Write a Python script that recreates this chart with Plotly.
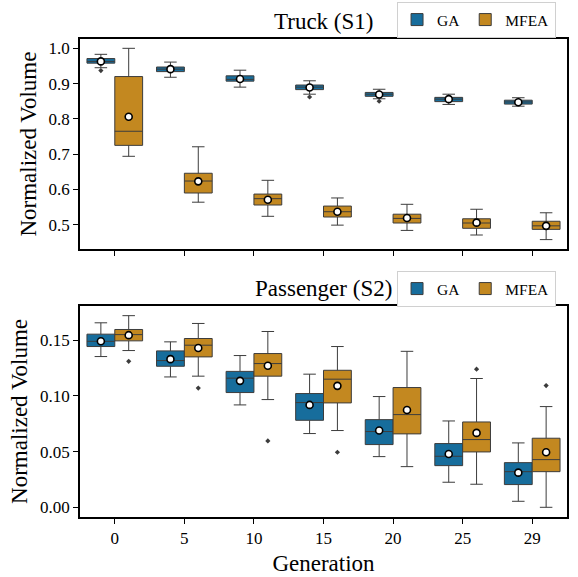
import plotly.graph_objects as go
from plotly.subplots import make_subplots

generations = ["0", "5", "10", "15", "20", "25", "29"]
series_names = ["GA", "MFEA"]

# ---- Truck (S1) ----
truck_ga_lower = [0.945, 0.918, 0.890, 0.870, 0.857, 0.841, 0.836]
truck_ga_q1 = [0.958, 0.934, 0.907, 0.883, 0.864, 0.849, 0.842]
truck_ga_median = [0.963, 0.941, 0.912, 0.890, 0.870, 0.856, 0.848]
truck_ga_q3 = [0.971, 0.947, 0.922, 0.896, 0.875, 0.861, 0.853]
truck_ga_upper = [0.983, 0.961, 0.938, 0.908, 0.884, 0.870, 0.860]
truck_ga_mean = [0.963, 0.941, 0.913, 0.889, 0.869, 0.856, 0.847]
truck_ga_out_gen = ["0", "15", "20"]
truck_ga_out_val = [0.937, 0.862, 0.850]

truck_mfea_lower = [0.694, 0.564, 0.524, 0.499, 0.484, 0.471, 0.458]
truck_mfea_q1 = [0.725, 0.590, 0.556, 0.522, 0.505, 0.490, 0.487]
truck_mfea_median = [0.765, 0.624, 0.574, 0.537, 0.518, 0.505, 0.497]
truck_mfea_q3 = [0.920, 0.646, 0.587, 0.553, 0.530, 0.517, 0.510]
truck_mfea_upper = [1.000, 0.721, 0.626, 0.576, 0.558, 0.544, 0.534]
truck_mfea_mean = [0.806, 0.623, 0.571, 0.537, 0.519, 0.506, 0.497]
truck_mfea_out_gen = []
truck_mfea_out_val = []

# ---- Passenger (S2) ----
pass_ga_lower = [0.1353, 0.1170, 0.0919, 0.0662, 0.0455, 0.0225, 0.0054]
pass_ga_q1 = [0.1443, 0.1266, 0.1030, 0.0781, 0.0563, 0.0374, 0.0204]
pass_ga_median = [0.1490, 0.1317, 0.1159, 0.0940, 0.0680, 0.0458, 0.0320]
pass_ga_q3 = [0.1554, 0.1404, 0.1220, 0.1021, 0.0787, 0.0572, 0.0401]
pass_ga_upper = [0.1656, 0.1485, 0.1362, 0.1195, 0.0994, 0.0775, 0.0578]
pass_ga_mean = [0.1490, 0.1330, 0.1135, 0.0919, 0.0689, 0.0479, 0.0311]
pass_ga_out_gen = []
pass_ga_out_val = []

pass_mfea_lower = [0.1407, 0.1177, 0.0967, 0.0689, 0.0365, 0.0207, 0.0000]
pass_mfea_q1 = [0.1494, 0.1350, 0.1177, 0.0937, 0.0659, 0.0497, 0.0320]
pass_mfea_median = [0.1550, 0.1455, 0.1290, 0.1150, 0.0832, 0.0608, 0.0428]
pass_mfea_q3 = [0.1596, 0.1515, 0.1380, 0.1230, 0.1075, 0.0766, 0.0620]
pass_mfea_upper = [0.1720, 0.1650, 0.1578, 0.1443, 0.1400, 0.1156, 0.0904]
pass_mfea_mean = [0.1545, 0.1430, 0.1270, 0.1090, 0.0874, 0.0668, 0.0494]
pass_mfea_out_gen = ["0", "5", "10", "15", "25", "29"]
pass_mfea_out_val = [0.131, 0.107, 0.0596, 0.0494, 0.124, 0.1093]

colors = {"GA": "#176D9C", "MFEA": "#C38820"}
line_col = "#3c3c3c"
FONT = "Liberation Serif, Times New Roman, serif"

panels = [
    dict(row=1, legend="legend", data={
        "GA": (truck_ga_lower, truck_ga_q1, truck_ga_median, truck_ga_q3, truck_ga_upper,
               truck_ga_mean, truck_ga_out_gen, truck_ga_out_val),
        "MFEA": (truck_mfea_lower, truck_mfea_q1, truck_mfea_median, truck_mfea_q3, truck_mfea_upper,
                 truck_mfea_mean, truck_mfea_out_gen, truck_mfea_out_val),
    }),
    dict(row=2, legend="legend2", data={
        "GA": (pass_ga_lower, pass_ga_q1, pass_ga_median, pass_ga_q3, pass_ga_upper,
               pass_ga_mean, pass_ga_out_gen, pass_ga_out_val),
        "MFEA": (pass_mfea_lower, pass_mfea_q1, pass_mfea_median, pass_mfea_q3, pass_mfea_upper,
                 pass_mfea_mean, pass_mfea_out_gen, pass_mfea_out_val),
    }),
]

fig = make_subplots(rows=2, cols=1)

for p in panels:
    r = p["row"]
    for name in series_names:
        lo, q1, med, q3, up, mean, og, ov = p["data"][name]
        fig.add_trace(go.Box(
            x=generations, q1=q1, median=med, q3=q3, lowerfence=lo, upperfence=up,
            name=name, offsetgroup=name, legendgroup=name, legend=p["legend"],
            fillcolor=colors[name], line=dict(color=line_col, width=1),
            whiskerwidth=0.45, boxpoints=False, showlegend=True,
        ), row=r, col=1)
    for name in series_names:
        lo, q1, med, q3, up, mean, og, ov = p["data"][name]
        fig.add_trace(go.Scatter(
            x=og, y=ov, mode="markers", offsetgroup=name, showlegend=False,
            marker=dict(symbol="diamond", size=4, color=line_col, line=dict(width=0)),
        ), row=r, col=1)
        fig.add_trace(go.Scatter(
            x=generations, y=mean, mode="markers", offsetgroup=name, showlegend=False,
            marker=dict(symbol="circle", size=7, color="white", line=dict(color="black", width=1.6)),
        ), row=r, col=1)

axis_common = dict(
    showline=True, linecolor="black", linewidth=1.5, mirror=True,
    ticks="outside", ticklen=5, tickwidth=1.2, tickcolor="black",
    showgrid=False, zeroline=False, automargin=False,
    tickfont=dict(family=FONT, size=17, color="black"),
)

fig.update_xaxes(type="category", categoryorder="array", categoryarray=generations,
                 range=[-0.5, 6.5], **axis_common)
fig.update_xaxes(showticklabels=False, row=1, col=1)
fig.update_xaxes(title=dict(text="Generation", font=dict(family=FONT, size=23, color="black"), standoff=8),
                 row=2, col=1)
fig.update_yaxes(**axis_common)
fig.update_yaxes(range=[0.431, 1.0264], tickvals=[0.5, 0.6, 0.7, 0.8, 0.9, 1.0], tickformat=".1f",
                 title=dict(text="Normalized Volume", font=dict(family=FONT, size=23, color="black"), standoff=6),
                 domain=[0.5604, 1.0], row=1, col=1)
fig.update_yaxes(range=[-0.0087, 0.1808], tickvals=[0.0, 0.05, 0.10, 0.15], tickformat=".2f",
                 title=dict(text="Normalized Volume", font=dict(family=FONT, size=23, color="black"), standoff=6),
                 domain=[0.0, 0.4417], row=2, col=1)
fig.update_xaxes(domain=[0, 1])

legend_common = dict(
    orientation="h", xref="container", yref="container",
    xanchor="right", yanchor="top", x=0.962,
    bgcolor="white", bordercolor="#d0d0d0", borderwidth=1,
    font=dict(family=FONT, size=15.5, color="black"),
    itemwidth=30, tracegroupgap=0,
)

fig.update_layout(
    width=578, height=577,
    margin=dict(l=80, r=11, t=39, b=60, autoexpand=False),
    paper_bgcolor="white", plot_bgcolor="white",
    boxmode="group", boxgap=0.2, boxgroupgap=0.0,
    scattermode="group", scattergap=0.2,
    font=dict(family=FONT, color="black"),
    legend=dict(y=1 - 2 / 577, **legend_common),
    legend2=dict(y=1 - 271 / 577, **legend_common),
    annotations=[
        dict(text="Truck (S1)", x=0.5, y=1.0, xref="paper", yref="paper", xanchor="center",
             yanchor="bottom", yshift=3, showarrow=False, font=dict(family=FONT, size=23, color="black")),
        dict(text="Passenger (S2)", x=0.5, y=0.4417, xref="paper", yref="paper", xanchor="center",
             yanchor="bottom", yshift=3, showarrow=False, font=dict(family=FONT, size=23, color="black")),
    ],
)

fig.write_html("out.html")
